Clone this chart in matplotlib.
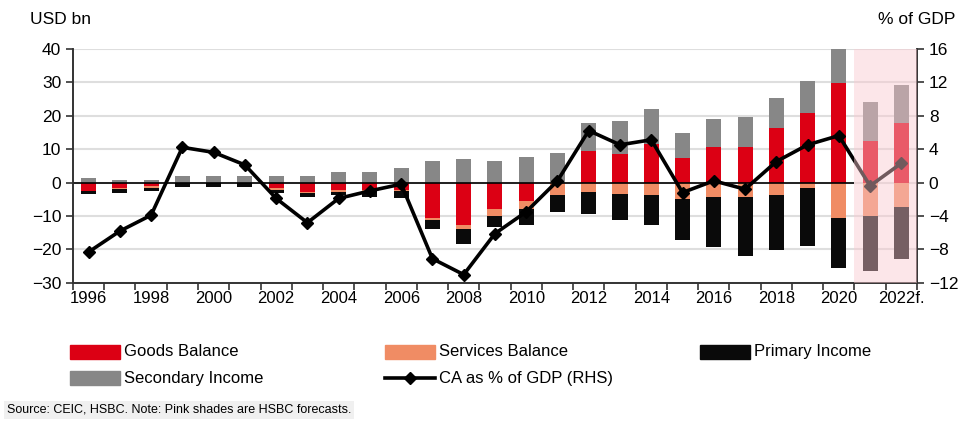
import matplotlib.pyplot as plt
import matplotlib.patches as mpatches
from matplotlib.lines import Line2D
import numpy as np

plt.rcParams['font.family'] = ['Liberation Sans', 'DejaVu Sans']

years = list(range(1996, 2023))
goods = [-2.6, -1.6, -1.0, -0.2, 0.0, 0.0, -1.5, -2.8, -2.2, -2.3,
         -2.3, -10.7, -12.7, -7.8, -5.5, 0.0, 9.5, 8.4, 11.6, 7.2,
         10.6, 10.6, 16.3, 20.8, 29.8, 12.3, 17.9]
services = [0.0, -0.4, -0.5, 0.0, 0.0, 0.0, -0.6, -0.3, -0.5, -0.4,
            -0.3, -0.5, -1.3, -2.3, -2.3, -3.8, -2.8, -3.3, -3.8, -5.0,
            -4.3, -4.3, -3.8, -1.5, -10.7, -10.0, -7.3]
primary = [-0.9, -1.0, -0.9, -1.1, -1.3, -1.3, -1.0, -1.3, -1.0, -1.5,
           -2.0, -2.7, -4.5, -3.2, -5.0, -5.0, -6.5, -7.8, -9.0, -12.2,
           -14.9, -17.7, -16.4, -17.5, -14.9, -16.3, -15.6]
secondary = [1.4, 0.8, 0.8, 2.0, 2.0, 2.0, 2.0, 2.0, 3.0, 3.0,
             4.2, 6.5, 7.1, 6.5, 7.6, 8.7, 8.3, 10.0, 10.2, 7.7,
             8.4, 9.0, 8.9, 9.6, 10.5, 11.8, 11.3]
ca_gdp = [-8.3, -5.8, -3.9, 4.2, 3.6, 2.1, -1.9, -4.8, -1.9, -1.0,
          -0.2, -9.1, -11.0, -6.1, -3.5, 0.2, 6.2, 4.5, 5.1, -1.2,
          0.2, -0.8, 2.5, 4.5, 5.6, -0.4, 2.3]
first_forecast = 2021

series = [
    ('Goods Balance', goods, '#dc0014'),
    ('Services Balance', services, '#f08c64'),
    ('Primary Income', primary, '#0a0a0a'),
    ('Secondary Income', secondary, '#878787'),
]

fig = plt.figure(figsize=(9.69, 4.23), dpi=100)
ax = fig.add_axes([0.0753, 0.331, 0.8710, 0.5543])
ax2 = ax.twinx()

x = np.arange(len(years))
pos = np.zeros(len(years))
neg = np.zeros(len(years))
for name, vals, col in series:
    v = np.array(vals)
    bottom = np.where(v >= 0, pos, neg)
    ax.bar(x, v, 0.48, bottom=bottom, color=col, zorder=2)
    pos = pos + np.where(v >= 0, v, 0)
    neg = neg + np.where(v < 0, v, 0)

fc = years.index(first_forecast) - 0.5
ax.hlines(0, -0.5, fc, color='black', lw=1.2, zorder=3)

ax.set_ylim(-30, 40)
ax.set_yticks(np.arange(-30, 41, 10))
ax.set_xlim(-0.5, len(years) - 0.5)
ax.yaxis.grid(True, color='#dedede', lw=1.5, zorder=0)
ax.set_axisbelow(True)

ax.set_xticks(x[::2])
labels = [str(y) for y in years[::2]]
labels[-1] = '2022f.'
ax.set_xticklabels(labels, fontsize=12)
ax.set_xticks(np.arange(-0.5, len(years)), minor=True)
ax.tick_params(axis='x', which='major', length=0, pad=6)
ax.tick_params(axis='x', which='minor', length=5, width=1.2, color='#333333')
ax.tick_params(axis='y', labelsize=12.5, length=5, width=1.2, color='#333333')

ax2.plot(x, ca_gdp, color='black', lw=2.6, marker='D', ms=6, zorder=4)
ax2.set_ylim(-12, 16)
ax2.set_yticks(np.arange(-12, 17, 4))
ax2.tick_params(axis='y', labelsize=12.5, length=5, width=1.2, color='#333333')
ax2.set_xlim(-0.5, len(years) - 0.5)

for a in (ax, ax2):
    a.spines['top'].set_visible(False)
    for s in ('left', 'right', 'bottom'):
        a.spines[s].set_color('#333333')
        a.spines[s].set_linewidth(1.2)

# forecast shading drawn over the bars so they appear tinted
ax2.axvspan(fc, len(years) - 0.5, color='#fac8d0', alpha=0.45, lw=0, zorder=5)

fig.text(0.031, 0.955, 'USD bn', fontsize=12.5, va='center')
fig.text(0.986, 0.955, '% of GDP', fontsize=12.5, va='center', ha='right')

# legend
rows = [0.168, 0.106]
cols = [0.072, 0.397, 0.722]
items = [(0, 0, 'patch', '#dc0014', 'Goods Balance'),
         (1, 0, 'patch', '#f08c64', 'Services Balance'),
         (2, 0, 'patch', '#0a0a0a', 'Primary Income'),
         (0, 1, 'patch', '#878787', 'Secondary Income'),
         (1, 1, 'line', 'black', 'CA as % of GDP (RHS)')]
for c, r, kind, col, txt in items:
    x0, y0 = cols[c], rows[r]
    if kind == 'patch':
        fig.patches.append(mpatches.Rectangle((x0, y0 - 0.017), 0.052, 0.034,
                                              color=col, transform=fig.transFigure))
    else:
        fig.lines.append(Line2D([x0, x0 + 0.052], [y0, y0], color=col, lw=2.6,
                                transform=fig.transFigure))
        fig.lines.append(Line2D([x0 + 0.026], [y0], color=col, marker='D', ms=6,
                                transform=fig.transFigure))
    fig.text(x0 + 0.056, y0, txt, fontsize=12, va='center')

fig.text(0.007, 0.031, 'Source: CEIC, HSBC. Note: Pink shades are HSBC forecasts.',
         fontsize=9, va='center',
         bbox=dict(facecolor='#f0f0f0', edgecolor='none', pad=2))

fig.savefig('out.png', dpi=100)
